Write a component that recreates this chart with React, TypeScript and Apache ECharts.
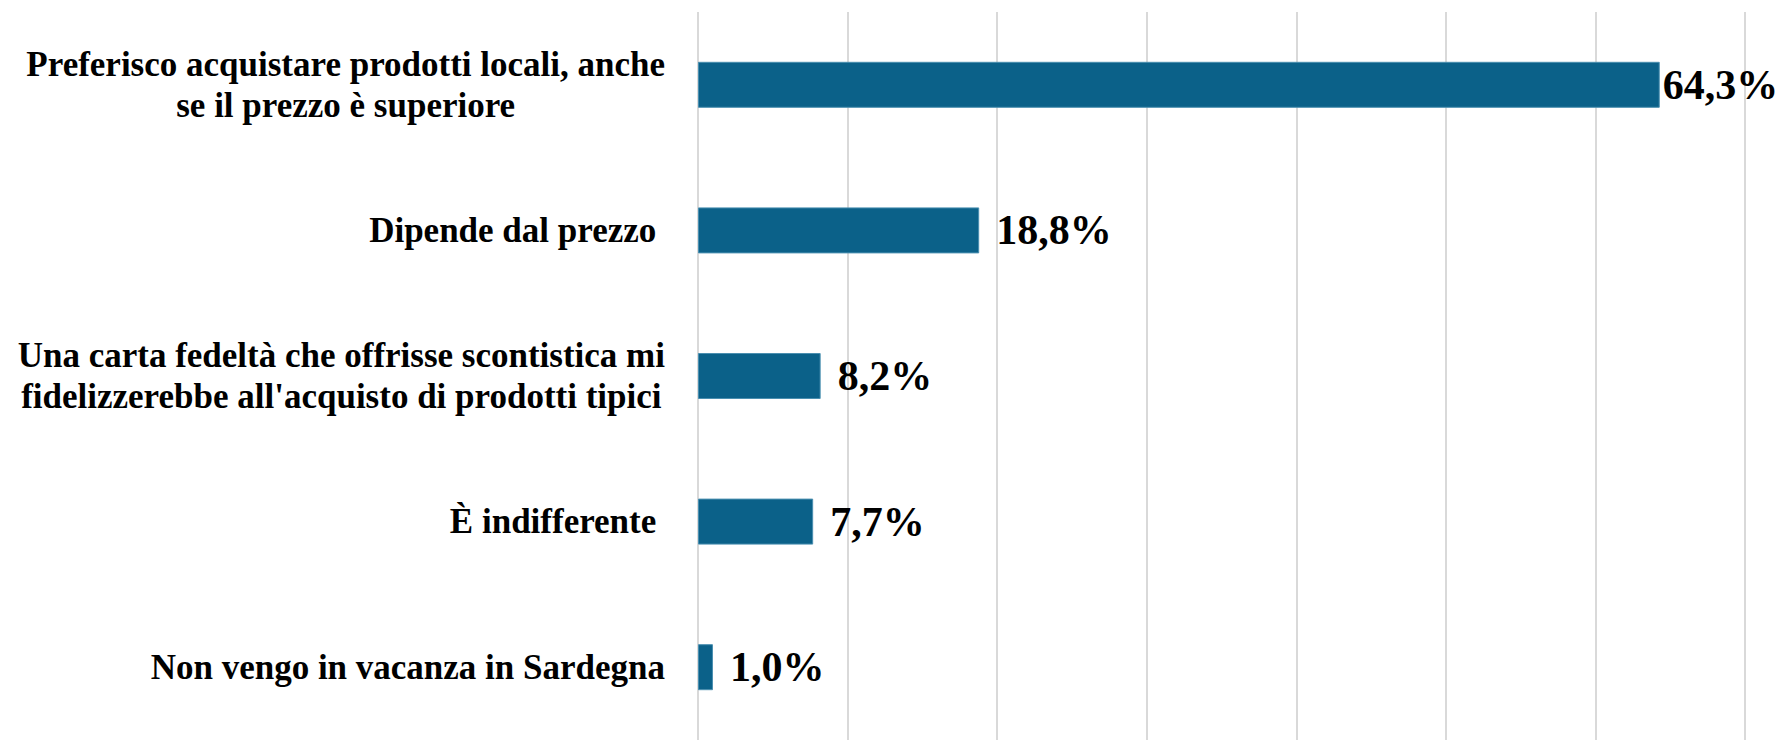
import React, { useEffect, useRef } from "react";
import * as echarts from "echarts";

const categories: string[] = [
  "Preferisco acquistare prodotti locali, anche\nse il prezzo è superiore",
  "Dipende dal prezzo ",
  "Una carta fedeltà che offrisse scontistica mi\nfidelizzerebbe all'acquisto di prodotti tipici",
  "È indifferente ",
  "Non vengo in vacanza in Sardegna",
];
const values: number[] = [64.3, 18.8, 8.2, 7.7, 1.0];
const labelDistances: number[] = [3, 17, 17, 17, 17];

const App: React.FC = () => {
  const ref = useRef<HTMLDivElement>(null);
  useEffect(() => {
    if (!ref.current) return;
    const chart = echarts.init(ref.current, null, { renderer: "svg" });
    chart.setOption({
      animation: false,
      grid: { left: 698, right: 33, top: 12, bottom: -4, containLabel: false },
      xAxis: {
        type: "value",
        min: 0,
        max: 70,
        interval: 10,
        axisLabel: { show: false },
        axisLine: { show: false },
        axisTick: { show: false },
        splitLine: { show: true, lineStyle: { color: "#d9d9d9", width: 2 } },
      },
      yAxis: {
        type: "category",
        inverse: true,
        data: categories,
        axisLine: { show: false },
        axisTick: { show: false },
        axisLabel: {
          margin: 33,
          align: "right",
          formatter: (v: string) =>
            v
              .split("\n")
              .map((l) => `{a|${l}}`)
              .join("\n"),
          rich: {
            a: {
              align: "center",
              fontFamily: "Liberation Serif",
              fontWeight: "bold",
              fontSize: 35,
              lineHeight: 41,
              color: "#000",
            },
          },
        },
      },
      series: [
        {
          type: "bar",
          barWidth: 46,
          data: values.map((v, i) => ({
            value: v,
            label: { distance: labelDistances[i] },
          })),
          itemStyle: { color: "#0b6189", borderColor: "#4a8fb0", borderWidth: 1 },
          label: {
            show: true,
            position: "right",
            formatter: (p: any) => p.value.toFixed(1).replace(".", ",") + "%",
            fontFamily: "Liberation Serif",
            fontWeight: "bold",
            fontSize: 42,
            color: "#000",
          },
        },
      ],
    });
    return () => chart.dispose();
  }, []);
  return (
    <div
      ref={ref}
      style={{ position: "fixed", left: 0, top: 0, width: 1778, height: 740, background: "#fff" }}
    />
  );
};

export default App;
